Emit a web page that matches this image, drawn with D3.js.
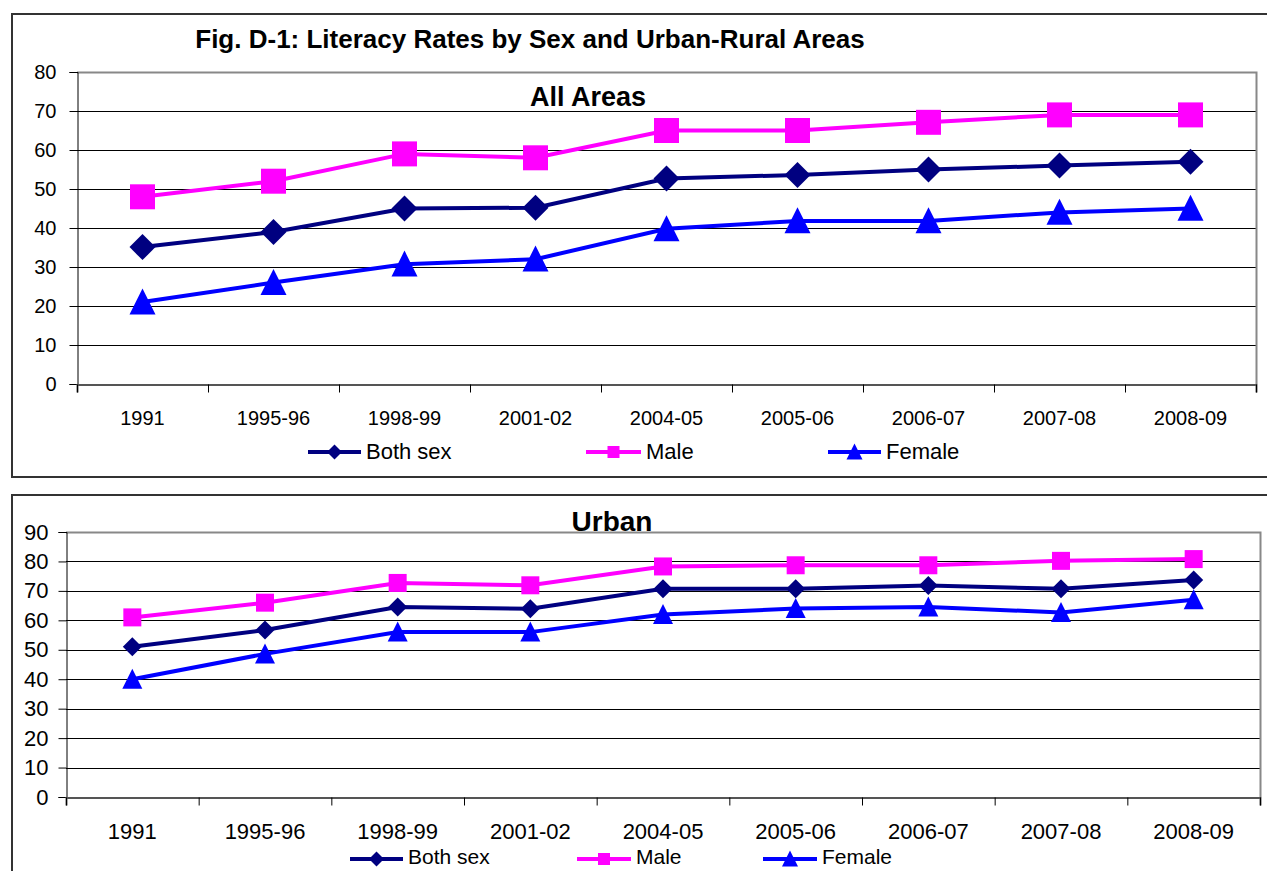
<!DOCTYPE html>
<html>
<head>
<meta charset="utf-8">
<script src="https://cdn.jsdelivr.net/npm/d3@7"></script>
<style>
  body { margin: 0; background: #fff; }
  text { font-family: "Liberation Sans", Arial, sans-serif; fill: #000; }
</style>
</head>
<body>
<div id="chart"></div>
<script>
// categories on the x axis
var years = ["1991", "1995-96", "1998-99", "2001-02", "2004-05", "2005-06", "2006-07", "2007-08", "2008-09"];

// All Areas
var allBoth   = [35.1, 39, 45, 45.2, 52.7, 53.6, 55, 56, 57];
var allMale   = [48, 52, 59, 58, 65, 65, 67.1, 69, 69];
var allFemale = [21, 26, 30.7, 32, 39.8, 41.8, 41.8, 44, 45];

// Urban
var urbanBoth   = [51, 56.7, 64.5, 63.9, 70.7, 70.7, 71.8, 70.7, 73.7];
var urbanMale   = [61, 66, 72.7, 71.9, 78.3, 78.7, 78.7, 80.2, 80.8];
var urbanFemale = [40, 48.6, 56, 56, 62, 64, 64.5, 62.7, 67];

var seriesNames = ["Both sex", "Male", "Female"];
var ticksAll = [0, 10, 20, 30, 40, 50, 60, 70, 80];
var ticksUrban = [0, 10, 20, 30, 40, 50, 60, 70, 80, 90];

var colors = { "Both sex": "#000080", "Male": "#ff00ff", "Female": "#0000ff" };
var shapes = { "Both sex": "diamond", "Male": "square", "Female": "triangle" };

var svg = d3.select("#chart")
  .append("svg")
    .attr("width", 1267)
    .attr("height", 871);

// marker paths, s = full width
function marker(shape, s) {
  var h = s / 2;
  if (shape == "square") return "M" + (-h) + "," + (-h) + "h" + s + "v" + s + "h" + (-s) + "Z";
  if (shape == "diamond") return "M0," + (-h) + "L" + h + ",0L0," + h + "L" + (-h) + ",0Z";
  return "M0," + (-h * 1.05) + "L" + h + "," + (h * 0.95) + "L" + (-h) + "," + (h * 0.95) + "Z";
}

// outer boxes
svg.append("rect")
  .attr("x", 12).attr("y", 14).attr("width", 1270).attr("height", 463)
  .attr("fill", "none").attr("stroke", "#333").attr("stroke-width", 2);
svg.append("rect")
  .attr("x", 12).attr("y", 495).attr("width", 1270).attr("height", 400)
  .attr("fill", "none").attr("stroke", "#333").attr("stroke-width", 2);

svg.append("text")
  .attr("x", 530).attr("y", 48)
  .style("text-anchor", "middle")
  .style("font-size", "26px")
  .style("font-weight", "bold")
  .text("Fig. D-1: Literacy Rates by Sex and Urban-Rural Areas");

function drawPanel(p) {
  var g = svg.append("g");

  var x = d3.scaleBand()
    .domain(years)
    .range([p.left, p.right])
    .padding(0);

  var y = d3.scaleLinear()
    .domain([0, d3.max(p.ticks)])
    .range([p.bottom, p.top]);

  // gridlines
  g.append("g")
    .selectAll("line")
    .data(p.ticks.slice(1, -1))
    .enter().append("line")
      .attr("x1", p.left).attr("x2", p.right)
      .attr("y1", function(d) { return Math.round(y(d)) + 0.5; })
      .attr("y2", function(d) { return Math.round(y(d)) + 0.5; })
      .attr("stroke", "#000").attr("stroke-width", 1);

  // plot area border top / right
  g.append("path")
    .attr("d", "M" + p.left + "," + (p.top + 0.5) + "H" + (p.right + 0.5) + "V" + p.bottom)
    .attr("fill", "none").attr("stroke", "#888").attr("stroke-width", 2);

  // y axis
  var yAxis = g.append("g")
    .attr("transform", "translate(" + (p.left + 0.5) + ",0)")
    .call(d3.axisLeft(y).tickValues(p.ticks).tickSize(8).tickPadding(p.pad).tickFormat(d3.format("d")));
  yAxis.select(".domain").attr("stroke", "#000");
  yAxis.selectAll(".tick line").attr("stroke", "#000");
  yAxis.selectAll("text").style("font-size", p.font + "px").attr("fill", "#000");

  // x axis: tick marks at category boundaries
  var xb = d3.scaleLinear().domain([0, years.length]).range([p.left, p.right]);
  var xTicks = g.append("g")
    .attr("transform", "translate(0," + (Math.round(p.bottom) + 0.5) + ")")
    .call(d3.axisBottom(xb).ticks(years.length).tickSize(8).tickFormat(""));
  xTicks.select(".domain").attr("stroke", "#555").attr("stroke-width", 2);
  xTicks.selectAll(".tick line").attr("stroke", "#000");

  // x labels
  g.append("g")
    .selectAll("text")
    .data(years)
    .enter().append("text")
      .attr("x", function(d) { return x(d) + x.bandwidth() / 2; })
      .attr("y", p.labelY)
      .style("text-anchor", "middle")
      .style("font-size", p.font + "px")
      .text(function(d) { return d; });

  // subtitle
  g.append("text")
    .attr("x", p.subX).attr("y", p.subY)
    .style("text-anchor", "middle")
    .style("font-size", p.subFont + "px")
    .style("font-weight", "bold")
    .text(p.subtitle);

  var line = d3.line()
    .x(function(d, i) { return x(years[i]) + x.bandwidth() / 2; })
    .y(function(d) { return y(d); });

  p.series.forEach(function(s) {
    g.append("path")
      .datum(s.values)
      .attr("d", line)
      .attr("fill", "none")
      .attr("stroke", colors[s.name])
      .attr("stroke-width", p.lineW);

    g.append("g")
      .selectAll("path")
      .data(s.values)
      .enter().append("path")
        .attr("transform", function(d, i) {
          return "translate(" + (x(years[i]) + x.bandwidth() / 2) + "," + y(d) + ")";
        })
        .attr("d", marker(shapes[s.name], p.markerSize[shapes[s.name]]))
        .attr("fill", colors[s.name]);
  });

  // legend
  var leg = g.append("g");
  p.legend.forEach(function(l, i) {
    var name = seriesNames[i];
    leg.append("line")
      .attr("x1", l[0]).attr("x2", l[1])
      .attr("y1", p.legY).attr("y2", p.legY)
      .attr("stroke", colors[name]).attr("stroke-width", 4);
    leg.append("path")
      .attr("transform", "translate(" + ((l[0] + l[1]) / 2) + "," + p.legY + ")")
      .attr("d", marker(shapes[name], { diamond: 15, square: 12, triangle: 16 }[shapes[name]]))
      .attr("fill", colors[name]);
    leg.append("text")
      .attr("x", l[1] + 5)
      .attr("y", p.legY + p.legDy)
      .style("font-size", p.legFont + "px")
      .text(name);
  });
}

drawPanel({
  left: 77, right: 1256, top: 72, bottom: 384,
  ticks: ticksAll, font: 20, pad: 13, labelY: 425,
  subtitle: "All Areas", subX: 588, subY: 106, subFont: 27,
  lineW: 4,
  markerSize: { diamond: 26, square: 25, triangle: 26 },
  series: [
    { name: "Both sex", values: allBoth },
    { name: "Male", values: allMale },
    { name: "Female", values: allFemale }
  ],
  legY: 452, legDy: 7, legFont: 22,
  legend: [[308, 361], [586, 641], [828, 881]]
});

drawPanel({
  left: 66, right: 1260, top: 532, bottom: 797,
  ticks: ticksUrban, font: 22, pad: 10, labelY: 839,
  subtitle: "Urban", subX: 612, subY: 531, subFont: 28,
  lineW: 4,
  markerSize: { diamond: 19, square: 18, triangle: 20 },
  series: [
    { name: "Both sex", values: urbanBoth },
    { name: "Male", values: urbanMale },
    { name: "Female", values: urbanFemale }
  ],
  legY: 859, legDy: 5, legFont: 21,
  legend: [[350, 403], [577, 631], [763, 817]]
});
</script>
</body>
</html>
